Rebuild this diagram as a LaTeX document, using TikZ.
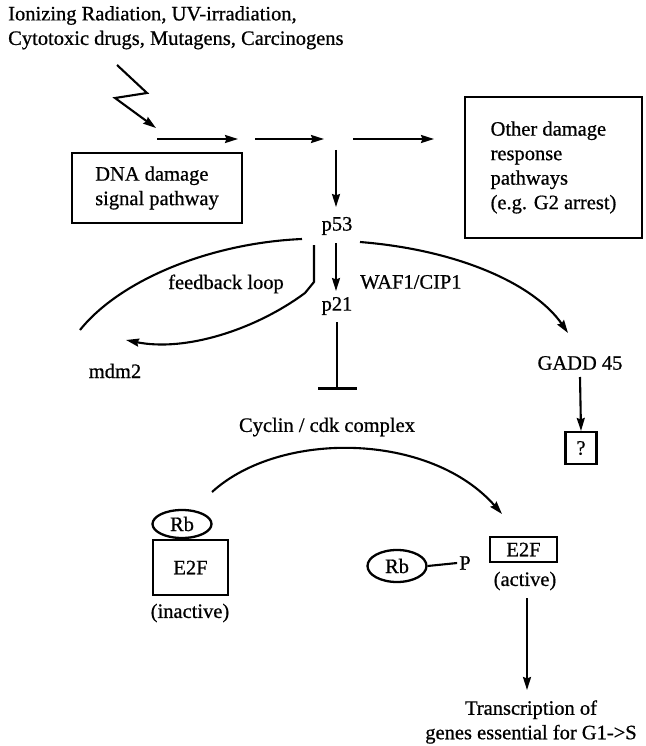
\documentclass[tikz,border=0pt]{standalone}
\usepackage{fontspec}
\setmainfont{Liberation Serif}[RawFeature={embolden=0.7}]
\usetikzlibrary{arrows.meta,shapes.geometric}

\tikzset{
  every node/.style={font=\fontsize{20.5}{24.5}\selectfont, inner sep=2pt},
  link/.style={line width=2.1pt, -{Stealth[length=13pt,width=8pt,inset=1.5pt]}},
  plain/.style={line width=2.1pt},
  block/.style={draw, line width=2.3pt, rectangle},
  rbshape/.style={draw, line width=2.3pt, ellipse, inner sep=0pt},
  centred/.style={align=center},
}

\begin{document}
\begin{tikzpicture}[x=1pt,y=-1pt]
\useasboundingbox (0,0) rectangle (645,746);

% damaging agents
\node[anchor=north west, align=left] (agents) at (6,4)
  {Ionizing Radiation, UV-irradiation,\\Cytotoxic drugs, Mutagens, Carcinogens};

% lightning stroke into the signal line
\coordinate (z0) at (117,65);
\coordinate (z1) at (147,93);
\coordinate (z2) at (115,98);
\coordinate (z3) at (156,128);
\draw[link] (z0) -- (z1) -- (z2) -- (z3);

% signal line, broken into three arrows
\coordinate (h1s) at (157,139); \coordinate (h1e) at (238,139);
\coordinate (h2s) at (255,139); \coordinate (h2e) at (324,139);
\coordinate (h3s) at (353,139); \coordinate (h3e) at (434,139);
\draw[link] (h1s) -- (h1e);
\draw[link] (h2s) -- (h2e);
\draw[link] (h3s) -- (h3e);

% boxes
\node[block, minimum width=170, minimum height=70, align=left] (dna) at (157,188)
  {DNA damage\\signal pathway};
\node[block, minimum width=177, minimum height=141, align=left] (other) at (553.5,167.5)
  {Other damage\\response\\pathways\\(e.g. G2 arrest)};

% p53 and its targets
\coordinate (v0) at (336,150);
\node (p53) at (337,226) {p53};
\draw[link] (v0) -- (336,207);

\node (p21) at (337,306) {p21};
\draw[link] (336,243) -- (336,291);
\node[anchor=west] (waf) at (358,282) {WAF1/CIP1};

% feedback loop to mdm2
\node (fb) at (226,284) {feedback loop};
\node (mdm2) at (115,371) {mdm2};
\coordinate (f0) at (302,239);
\coordinate (f1) at (80,330);
\draw[plain] (f0) .. controls (210,243) and (120,280) .. (f1);
\coordinate (g0) at (314,245);
\coordinate (g1) at (314,282);
\coordinate (g2) at (305,293);
\coordinate (g3) at (126,340);
\draw[link] (g0) -- (g1) -- (g2) .. controls (255,330) and (185,352) .. (g3);

% GADD 45 branch
\coordinate (r0) at (360,242);
\node (gadd) at (580,363) {GADD 45};
\draw[link] (r0) .. controls (460,250) and (535,285) .. (568,333);
\node[block, line width=2.1pt, minimum width=31, minimum height=32] (qbox) at (581,448) {?};
\draw[link] (580,377) -- (qbox.north);

% p21 inhibits the cyclin/cdk complex
\coordinate (inh) at (337,388);
\draw[plain] (337,322) -- (inh);
\draw[line width=3pt] (318,388) -- (357,388);
\node (cdk) at (327,427) {Cyclin / cdk complex};

% Rb-E2F complex (inactive)
\node[block, minimum width=75, minimum height=55] (e2fa) at (190.5,567.5) {E2F};
\node[rbshape, minimum width=59, minimum height=28] (rba) at (182,524) {Rb};
\node (inactive) at (190,613) {(inactive)};

% phosphorylation releases E2F
\coordinate (c0) at (212,492);
\coordinate (c1) at (502,514);
\draw[link] (c0) .. controls (280,430) and (430,432) .. (c1);

\node[rbshape, minimum width=59, minimum height=32] (rbb) at (397,566) {Rb};
\node (phos) at (465,563) {P};
\draw[plain] (rbb.east) -- (phos.west);

\node[block, minimum width=67, minimum height=25, inner sep=0pt] (e2fb) at (523.5,549.5) {E2F};
\node (active) at (525,581) {(active)};

% transcription
\node[centred] (trans) at (531,722) {Transcription of\\genes essential for G1->S};
\draw[link] (527,598) -- (527,690);
\end{tikzpicture}
\end{document}
